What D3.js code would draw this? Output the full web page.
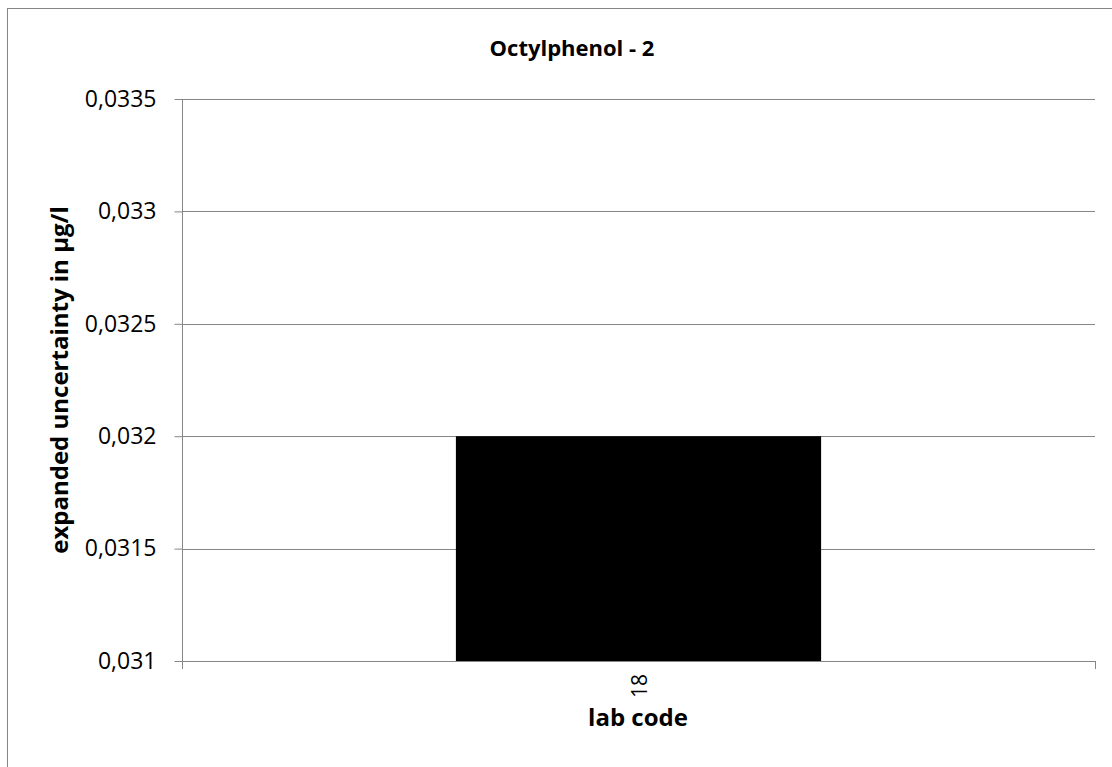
<!DOCTYPE html>
<html><head><meta charset="utf-8">
<script src="https://cdn.jsdelivr.net/npm/d3@7"></script>
<style>body{margin:0;background:#fff}svg{display:block}text{font-family:"Open Sans","Liberation Sans",sans-serif;fill:#000}</style>
</head><body>
<script>
const categories = ["18"];
const values = [0.032];
const yTicks = [0.031, 0.0315, 0.032, 0.0325, 0.033, 0.0335];
const yTickLabels = ["0,031", "0,0315", "0,032", "0,0325", "0,033", "0,0335"];
const title = "Octylphenol - 2";
const xTitle = "lab code";
const yTitle = "expanded uncertainty in µg/l";

const W = 1112, H = 767;
const m = {left: 182, right: 1095, top: 99, bottom: 661};
const svg = d3.select("body").append("svg").attr("width", W).attr("height", H);
svg.append("rect").attr("x", 7.5).attr("y", 8.5).attr("width", 1120).attr("height", 800)
  .attr("fill", "none").attr("stroke", "#868686").attr("stroke-width", 1);

const y = d3.scaleLinear().domain([0.031, 0.0335]).range([m.bottom, m.top]);
const x = d3.scaleBand().domain(categories).range([m.left, m.right]).paddingInner(0.6).paddingOuter(0.3);

// gridlines
svg.append("g").selectAll("line").data(yTicks.slice(1)).join("line")
  .attr("x1", m.left).attr("x2", m.right)
  .attr("y1", d => Math.round(y(d)) + 0.5).attr("y2", d => Math.round(y(d)) + 0.5)
  .attr("stroke", "#868686").attr("stroke-width", 1);

// bars
svg.append("g").selectAll("rect").data(values).join("rect")
  .attr("x", (d, i) => x(categories[i])).attr("width", x.bandwidth())
  .attr("y", d => y(d)).attr("height", d => y(0.031) - y(d))
  .attr("fill", "#000");

// y axis
const yAxis = d3.axisLeft(y).tickValues(yTicks).tickFormat((d, i) => yTickLabels[i]).tickSize(8).tickPadding(18);
const gy = svg.append("g").attr("transform", `translate(${m.left + 0.5},0)`).call(yAxis);
gy.selectAll("line,path").attr("stroke", "#868686");
gy.select(".domain").attr("d", `M0,${m.top}V${m.bottom}`);
gy.selectAll("text").style("font-size", "23px").attr("fill", "#000");

// x axis (boundary ticks)
const gx = svg.append("g");
gx.append("line").attr("x1", m.left).attr("x2", m.right)
  .attr("y1", m.bottom + 0.5).attr("y2", m.bottom + 0.5).attr("stroke", "#868686");
gx.selectAll("line.b").data([m.left, m.right]).join("line").attr("class", "b")
  .attr("x1", d => d + 0.5).attr("x2", d => d + 0.5)
  .attr("y1", m.bottom).attr("y2", m.bottom + 8).attr("stroke", "#868686");
gx.selectAll("text").data(categories).join("text")
  .attr("transform", d => `translate(${x(d) + x.bandwidth() / 2 + 8},${m.bottom + 25}) rotate(-90)`)
  .attr("text-anchor", "middle").style("font-size", "21px").text(d => d);

svg.append("text").attr("x", 572).attr("y", 56).attr("text-anchor", "middle")
  .style("font-size", "22px").style("font-weight", "bold").text(title);
svg.append("text").attr("x", 638).attr("y", 726).attr("text-anchor", "middle")
  .style("font-size", "24px").style("font-weight", "bold").text(xTitle);
svg.append("text").attr("transform", `translate(68,380) rotate(-90)`).attr("text-anchor", "middle")
  .style("font-size", "24px").style("font-weight", "bold").text(yTitle);
</script>
</body></html>
